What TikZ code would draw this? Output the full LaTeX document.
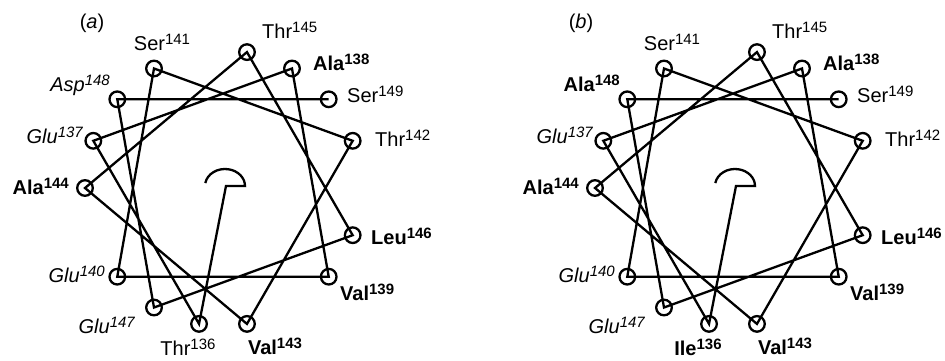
\documentclass[tikz,border=0pt]{standalone}
\usepackage{fontspec}
\setmainfont{Liberation Sans}
\usetikzlibrary{calc}

% residue name with its raised sequence number
\newcommand\resname[2]{#1\raisebox{6pt}{\fontsize{15}{15}\selectfont #2}}

\tikzset{
  x=1pt, y=1pt,
  res/.style={circle, draw, line width=2.3pt, minimum size=15.6pt, inner sep=0pt},
  chain/.style={line width=2.3pt, line join=miter},
  lab/.style={font=\fontsize{20}{24}\selectfont, inner sep=0pt},
}

% helical wheel: #1 name prefix, #2 centre, #3 label of residue 148, #4 label of residue 136
\newcommand\helixwheel[4]{%
  \coordinate (#1c) at #2;
  \foreach \n [count=\k from 0] in {136,...,149}
    \node[res] (#1\n) at ($(#1c)+({260-100*\k}:138)$) {};
  % start marker and the backbone trace through all residues
  \coordinate (#1hc) at ($(#1c)+(2,2)$);
  \coordinate (#1hA) at ($(#1hc)+(1,0)$);
  \coordinate (#1hL) at ($(#1hc)+(170:20 and 17)$);
  \draw[chain] (#1hL) arc[start angle=170, end angle=0, x radius=20, y radius=17]
    -- (#1hA) -- (#1136.center)
    \foreach \n in {137,...,149}{ -- (#1\n.center)};
  % residue labels
  \node[lab, anchor=base] at ($(#1c)+(-61,138)$) {\resname{Ser}{141}};
  \node[lab, anchor=base west] at ($(#1c)+(39,150)$) {\resname{Thr}{145}};
  \node[lab, anchor=base west] at ($(#1c)+(90,118)$) {\bfseries\resname{Ala}{138}};
  \node[lab, anchor=base east] at ($(#1c)+(-113,97)$) {#3};
  \node[lab, anchor=base west] at ($(#1c)+(124,86)$) {\resname{Ser}{149}};
  \node[lab, anchor=base east] at ($(#1c)+(-140,45)$) {\itshape\resname{Glu}{137}};
  \node[lab, anchor=base west] at ($(#1c)+(152,42)$) {\resname{Thr}{142}};
  \node[lab, anchor=base east] at ($(#1c)+(-154,-6)$) {\bfseries\resname{Ala}{144}};
  \node[lab, anchor=base west] at ($(#1c)+(148,-56)$) {\bfseries\resname{Leu}{146}};
  \node[lab, anchor=base east] at ($(#1c)+(-118,-94)$) {\itshape\resname{Glu}{140}};
  \node[lab, anchor=base west] at ($(#1c)+(117,-112)$) {\bfseries\resname{Val}{139}};
  \node[lab, anchor=base east] at ($(#1c)+(-88,-145)$) {\itshape\resname{Glu}{147}};
  \node[lab, anchor=base] at ($(#1c)+(-35,-167)$) {#4};
  \node[lab, anchor=base] at ($(#1c)+(52,-166)$) {\bfseries\resname{Val}{143}};
}

\begin{document}
\begin{tikzpicture}
  \fill[white] (0,0) rectangle (945,360);
  \useasboundingbox (0,0) rectangle (945,360);

  \node[lab] (pa) at (92,337) {(\textit{a})};
  \node[lab] (pb) at (581,337) {(\textit{b})};

  \helixwheel{a}{(223,172)}{\itshape\resname{Asp}{148}}{\resname{Thr}{136}}
  \helixwheel{b}{(733,172)}{\bfseries\resname{Ala}{148}}{\bfseries\resname{Ile}{136}}
\end{tikzpicture}
\end{document}
